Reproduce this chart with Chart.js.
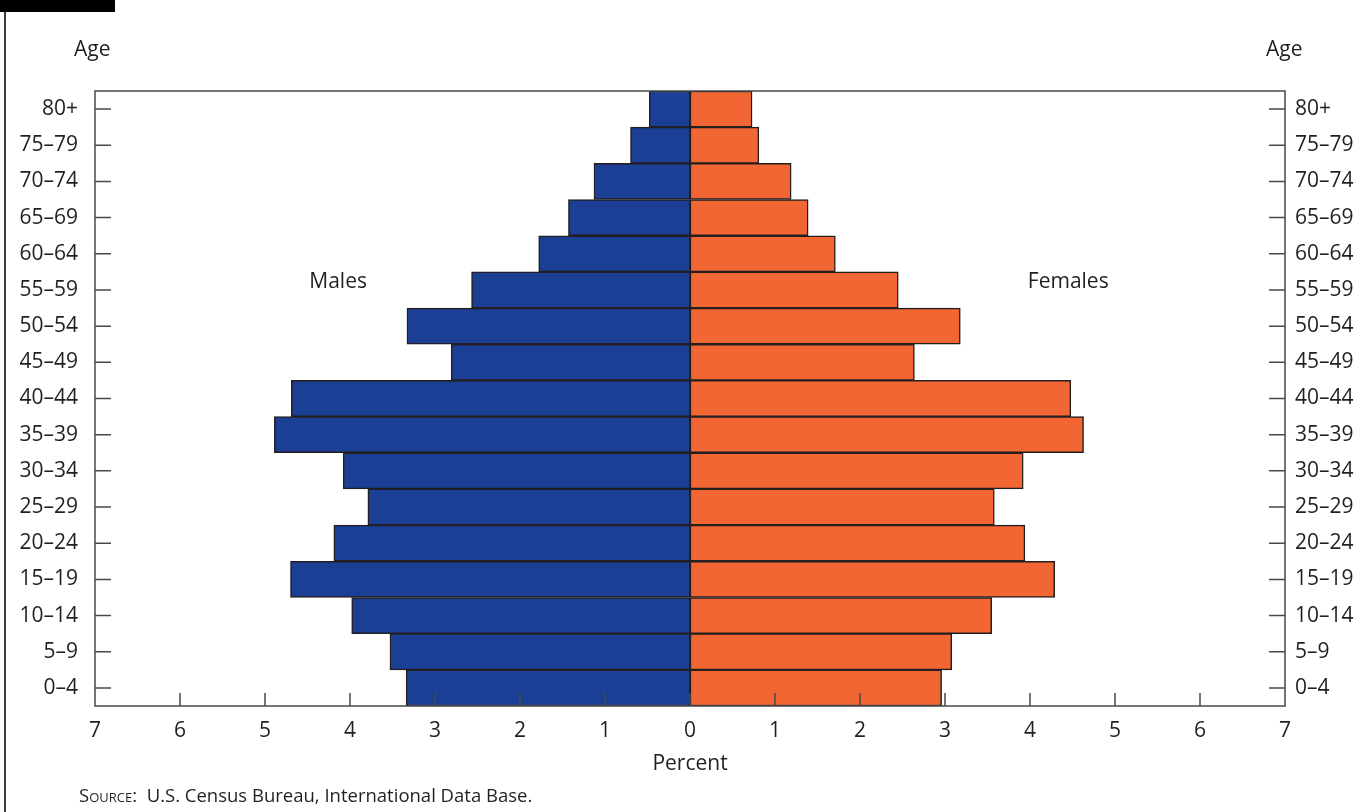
<!DOCTYPE html>
<html>
<head>
<meta charset="utf-8">
<script src="https://cdn.jsdelivr.net/npm/chart.js@4"></script>
<style>
  body { margin: 0; background: #fff; }
  #wrap { position: relative; width: 1366px; height: 812px; overflow: hidden; font-family: "Open Sans", sans-serif; color: #231f20; }
  #pyramide { position: absolute; left: 0; top: 0; }
  .kotak { position: absolute; left: 0; top: 0; width: 115px; height: 12px; background: #000; }
  .bingkai { position: absolute; left: 4px; top: 12px; width: 2px; height: 800px; background: #3a3a3a; }
  .umur { position: absolute; top: 34px; font-size: 21px; line-height: 28px; }
  .sumber { position: absolute; left: 79px; top: 782px; font-size: 18.5px; line-height: 26px; }
  .sumber .sc { font-variant: small-caps; }
</style>
</head>
<body>
<div id="wrap">
  <canvas id="pyramide" width="1366" height="812"></canvas>
  <div class="kotak"></div>
  <div class="bingkai"></div>
  <div class="umur" style="left:74px">Age</div>
  <div class="umur" style="left:1266px">Age</div>
  <div class="sumber"><span class="sc">Source</span>:&nbsp; U.S. Census Bureau, International Data Base.</div>
</div>
<script>
// kelompok umur, dari atas ke bawah
const kelompok_umur = ["80+", "75–79", "70–74", "65–69", "60–64", "55–59", "50–54", "45–49", "40–44",
    "35–39", "30–34", "25–29", "20–24", "15–19", "10–14", "5–9", "0–4"];
// persen penduduk
const persen_pria = [0.48, 0.70, 1.13, 1.43, 1.78, 2.57, 3.33, 2.81, 4.69,
    4.89, 4.08, 3.79, 4.19, 4.70, 3.98, 3.53, 3.34];
const persen_wanita = [0.73, 0.81, 1.19, 1.39, 1.71, 2.45, 3.18, 2.64, 4.48,
    4.63, 3.92, 3.58, 3.94, 4.29, 3.55, 3.08, 2.96];
const tick_persen = [-6, -5, -4, -3, -2, -1, 0, 1, 2, 3, 4, 5, 6];

const warna_teks = '#231f20';
const warna_garis = '#4a4a4a';
const huruf = { family: '"Open Sans", sans-serif', size: 21 };

// garis kotak plot + tick yang mengarah ke dalam
const tick_dalam = {
    id: 'tick_dalam',
    afterDatasetsDraw(chart) {
        const { ctx, chartArea: a, scales } = chart;
        ctx.save();
        ctx.strokeStyle = warna_garis;
        ctx.lineWidth = 1.5;
        ctx.beginPath();
        ctx.rect(a.left, a.top, a.right - a.left, a.bottom - a.top);
        tick_persen.forEach(v => {
            const px = scales.x.getPixelForValue(v);
            ctx.moveTo(px, a.bottom);
            ctx.lineTo(px, a.bottom - 13);
        });
        kelompok_umur.forEach((g, i) => {
            const py = scales.y.getPixelForValue(i);
            ctx.moveTo(a.left, py);
            ctx.lineTo(a.left + 16, py);
            ctx.moveTo(a.right, py);
            ctx.lineTo(a.right - 16, py);
        });
        ctx.stroke();

        // label Males / Females, sedikit di atas baris 55–59
        ctx.fillStyle = warna_teks;
        ctx.font = '21px "Open Sans", sans-serif';
        ctx.textAlign = 'center';
        ctx.textBaseline = 'middle';
        const py = scales.y.getPixelForValue(5) - 8;
        ctx.fillText('Males', scales.x.getPixelForValue(-4.14), py);
        ctx.fillText('Females', scales.x.getPixelForValue(4.45), py);
        ctx.restore();
    }
};

const chart_pyramide = new Chart(document.getElementById('pyramide'), {
    type: 'bar',
    data: {
        labels: kelompok_umur,
        datasets: [{
            label: 'Males',
            data: persen_pria.map(v => -v),
            backgroundColor: '#1b3f95',
            borderColor: '#231f20',
            borderWidth: 1.5,
            borderSkipped: false,
        }, {
            label: 'Females',
            data: persen_wanita,
            backgroundColor: '#f26633',
            borderColor: '#231f20',
            borderWidth: 1.5,
            borderSkipped: false,
        }],
    },
    options: {
        indexAxis: 'y',
        responsive: false,
        animation: false,
        events: [],
        devicePixelRatio: 1,
        categoryPercentage: 1,
        barPercentage: 1,
        layout: { padding: { top: 91, left: 0, right: 0, bottom: 0 } },
        plugins: { legend: { display: false }, tooltip: { enabled: false } },
        scales: {
            x: {
                stacked: true,
                min: -7,
                max: 7,
                grid: { display: false, drawTicks: false },
                border: { display: false },
                ticks: {
                    stepSize: 1,
                    padding: 12,
                    color: warna_teks,
                    font: huruf,
                    maxRotation: 0,
                    callback: v => Math.abs(v),
                },
                title: { display: true, text: 'Percent', color: warna_teks, font: huruf, padding: { top: 0, bottom: 35 } },
                afterFit(scale) { scale.height = 106; },
            },
            y: {
                stacked: true,
                position: 'left',
                grid: { display: false, drawTicks: false },
                border: { display: false },
                ticks: { autoSkip: false, padding: 17, color: warna_teks, font: huruf },
                afterFit(scale) { scale.width = 95; },
            },
            y2: {
                type: 'category',
                labels: kelompok_umur,
                position: 'right',
                offset: true,
                grid: { display: false, drawTicks: false },
                border: { display: false },
                ticks: { autoSkip: false, padding: 10, color: warna_teks, font: huruf },
                afterFit(scale) { scale.width = 81; },
            },
        },
    },
    plugins: [tick_dalam],
});
</script>
</body>
</html>
